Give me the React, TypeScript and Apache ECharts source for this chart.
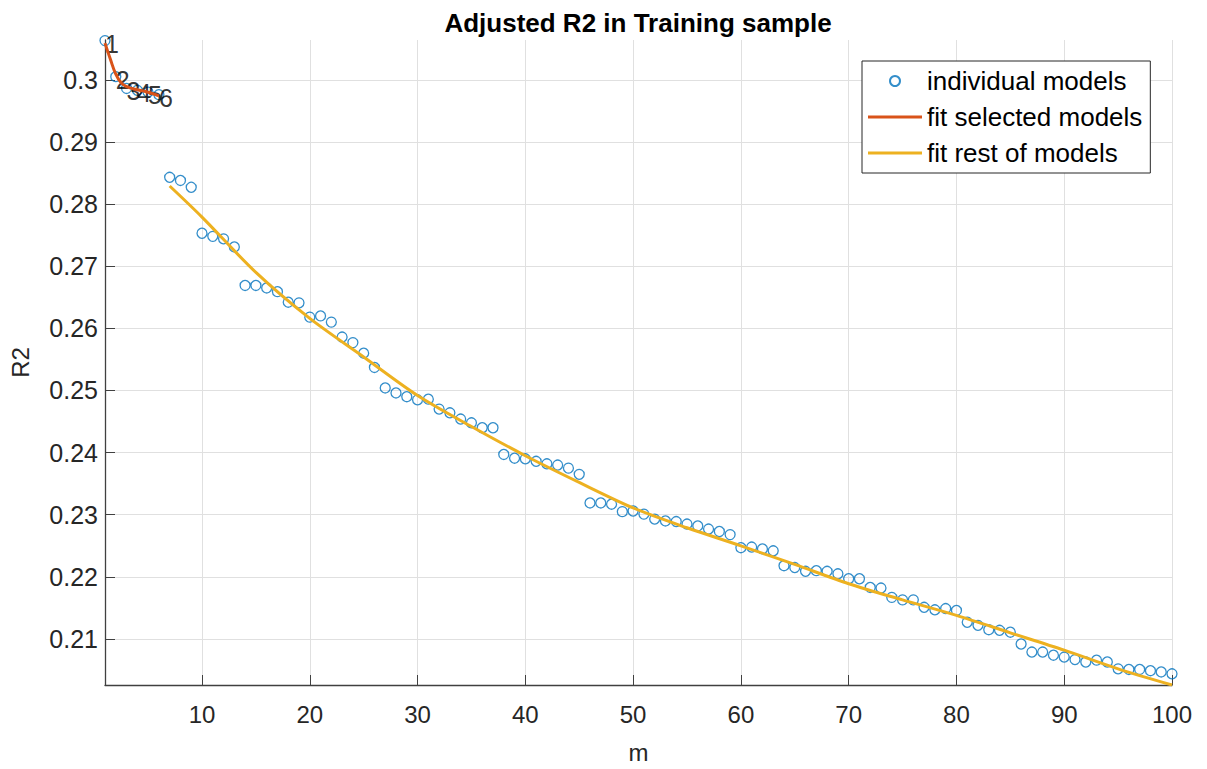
import React, { useEffect, useRef } from 'react';
import * as echarts from 'echarts';

// Adjusted R2 of each individual model, m = 1..100
const r2Values = [
  0.3063, 0.3005, 0.2986, 0.2983, 0.2980, 0.2976, 0.2843, 0.2838, 0.2827, 0.2753,
  0.2748, 0.2744, 0.2731, 0.2669, 0.2669, 0.2665, 0.2659, 0.2642, 0.2641, 0.2618,
  0.2620, 0.2610, 0.2586, 0.2577, 0.2560, 0.2537, 0.2504, 0.2496, 0.2490, 0.2485,
  0.2486, 0.2470, 0.2464, 0.2454, 0.2448, 0.2440, 0.2440, 0.2397, 0.2391, 0.2390,
  0.2386, 0.2382, 0.2380, 0.2375, 0.2365, 0.2319, 0.2319, 0.2317, 0.2305, 0.2306,
  0.2301, 0.2293, 0.2290, 0.2289, 0.2285, 0.2282, 0.2277, 0.2273, 0.2268, 0.2247,
  0.2248, 0.2245, 0.2242, 0.2218, 0.2215, 0.2209, 0.2210, 0.2209, 0.2205, 0.2197,
  0.2197, 0.2183, 0.2182, 0.2167, 0.2163, 0.2163, 0.2151, 0.2147, 0.2149, 0.2146,
  0.2127, 0.2122, 0.2115, 0.2114, 0.2111, 0.2092, 0.2079, 0.2079, 0.2074, 0.2071,
  0.2067, 0.2063, 0.2066, 0.2063, 0.2052, 0.2051, 0.2051, 0.2049, 0.2047, 0.2044,
];

// fit through the selected models (m = 1..6)
const selectedFitM = [1, 1.5, 2, 2.5, 3, 4, 5, 6];
const selectedFitR2 = [0.3059, 0.3033, 0.3009, 0.2995, 0.2989, 0.2984, 0.2980, 0.2974];

// fit through the rest of the models (m = 7..100)
const restFitM = [7, 10, 15, 20, 25, 30, 35, 40, 45, 50, 55, 60, 65, 70, 75, 80, 85, 90, 95, 100];
const restFitR2 = [
  0.2829, 0.2779, 0.2690, 0.2616, 0.2554, 0.2492, 0.2442, 0.2395, 0.2352, 0.2311,
  0.2279, 0.2250, 0.2220, 0.2189, 0.2163, 0.2138, 0.2110, 0.2082, 0.2052, 0.2026,
];

const xTicks = [10, 20, 30, 40, 50, 60, 70, 80, 90, 100];
const yTicks = [0.21, 0.22, 0.23, 0.24, 0.25, 0.26, 0.27, 0.28, 0.29, 0.3];
const labeledCount = 6;

const FONT = "'Liberation Sans', Arial, Helvetica, sans-serif";
const AXIS = '#404040';
const TEXT = '#262626';
const LINE_ICON = 'path://M0,0H54V3H0Z';

export default function App() {
  const ref = useRef<HTMLDivElement>(null);

  useEffect(() => {
    const chart = echarts.init(ref.current as HTMLDivElement, null, { renderer: 'svg' });

    const pointData = r2Values.map((v, i) => ({
      value: [i + 1, v],
      label: { show: i < labeledCount },
    }));

    chart.setOption({
      animation: false,
      backgroundColor: '#ffffff',
      title: {
        text: 'Adjusted R2 in Training sample',
        left: 638,
        textAlign: 'center',
        top: 10,
        padding: 0,
        textStyle: { fontFamily: FONT, fontSize: 26, fontWeight: 'bold', color: '#000' },
      },
      legend: {
        orient: 'vertical',
        left: 862,
        top: 61,
        padding: [5, 8, 5, 6],
        backgroundColor: '#ffffff',
        borderColor: '#262626',
        borderWidth: 1,
        itemWidth: 54,
        itemHeight: 10,
        itemGap: 6,
        itemTextGap: 5,
        textStyle: { fontFamily: FONT, fontSize: 26, color: '#000', lineHeight: 30 },
        data: [
          { name: 'individual models' },
          { name: 'fit selected models', icon: LINE_ICON },
          { name: 'fit rest of models', icon: LINE_ICON },
        ],
      },
      grid: { left: 105, right: 35, top: 40, bottom: 81, containLabel: false },
      xAxis: {
        type: 'value',
        min: 1,
        max: 100,
        name: 'm',
        nameLocation: 'middle',
        nameGap: 55,
        nameTextStyle: { fontFamily: FONT, fontSize: 24, color: TEXT },
        axisLine: { show: true, lineStyle: { color: AXIS, width: 1.3 } },
        axisTick: { show: true, inside: true, length: 10, customValues: xTicks, lineStyle: { color: AXIS } },
        axisLabel: {
          customValues: xTicks,
          margin: 17,
          fontFamily: FONT,
          fontSize: 24,
          color: TEXT,
          formatter: (v: number) => String(v),
        },
        splitLine: { show: true, lineStyle: { color: '#e0e0e0', width: 1 } },
      },
      yAxis: {
        type: 'value',
        min: 0.2026,
        max: 0.3064,
        name: 'R2',
        nameLocation: 'middle',
        nameRotate: 90,
        nameGap: 73,
        nameTextStyle: { fontFamily: FONT, fontSize: 24, color: TEXT },
        axisLine: { show: true, lineStyle: { color: AXIS, width: 1.3 } },
        axisTick: { show: true, inside: true, length: 10, customValues: yTicks, lineStyle: { color: AXIS } },
        axisLabel: {
          customValues: yTicks,
          margin: 7,
          fontFamily: FONT,
          fontSize: 25,
          color: TEXT,
          formatter: (v: number) => String(Number(v.toFixed(2))),
        },
        splitLine: { show: true, lineStyle: { color: '#e0e0e0', width: 1 } },
      },
      series: [
        {
          name: 'individual models',
          type: 'scatter',
          symbol: 'circle',
          symbolSize: 10,
          itemStyle: { color: 'rgba(255,255,255,0)', borderColor: '#0072BD', borderWidth: 1.3 },
          label: {
            show: false,
            position: 'inside',
            align: 'left',
            verticalAlign: 'middle',
            offset: [0, 3],
            fontFamily: FONT,
            fontSize: 25,
            color: '#000',
            formatter: (p: any) => String(p.value[0]),
          },
          emphasis: { disabled: true },
          data: pointData,
        },
        {
          name: 'fit selected models',
          type: 'line',
          smooth: 0.4,
          symbol: 'none',
          lineStyle: { color: '#D95319', width: 3 },
          itemStyle: { color: '#D95319' },
          emphasis: { disabled: true },
          data: selectedFitM.map((m, i) => [m, selectedFitR2[i]]),
        },
        {
          name: 'fit rest of models',
          type: 'line',
          smooth: 0.3,
          symbol: 'none',
          lineStyle: { color: '#EDB120', width: 3 },
          itemStyle: { color: '#EDB120' },
          emphasis: { disabled: true },
          data: restFitM.map((m, i) => [m, restFitR2[i]]),
        },
      ],
    });

    return () => chart.dispose();
  }, []);

  return (
    <div
      ref={ref}
      style={{ position: 'absolute', left: 0, top: 0, width: 1207, height: 769 }}
    />
  );
}
